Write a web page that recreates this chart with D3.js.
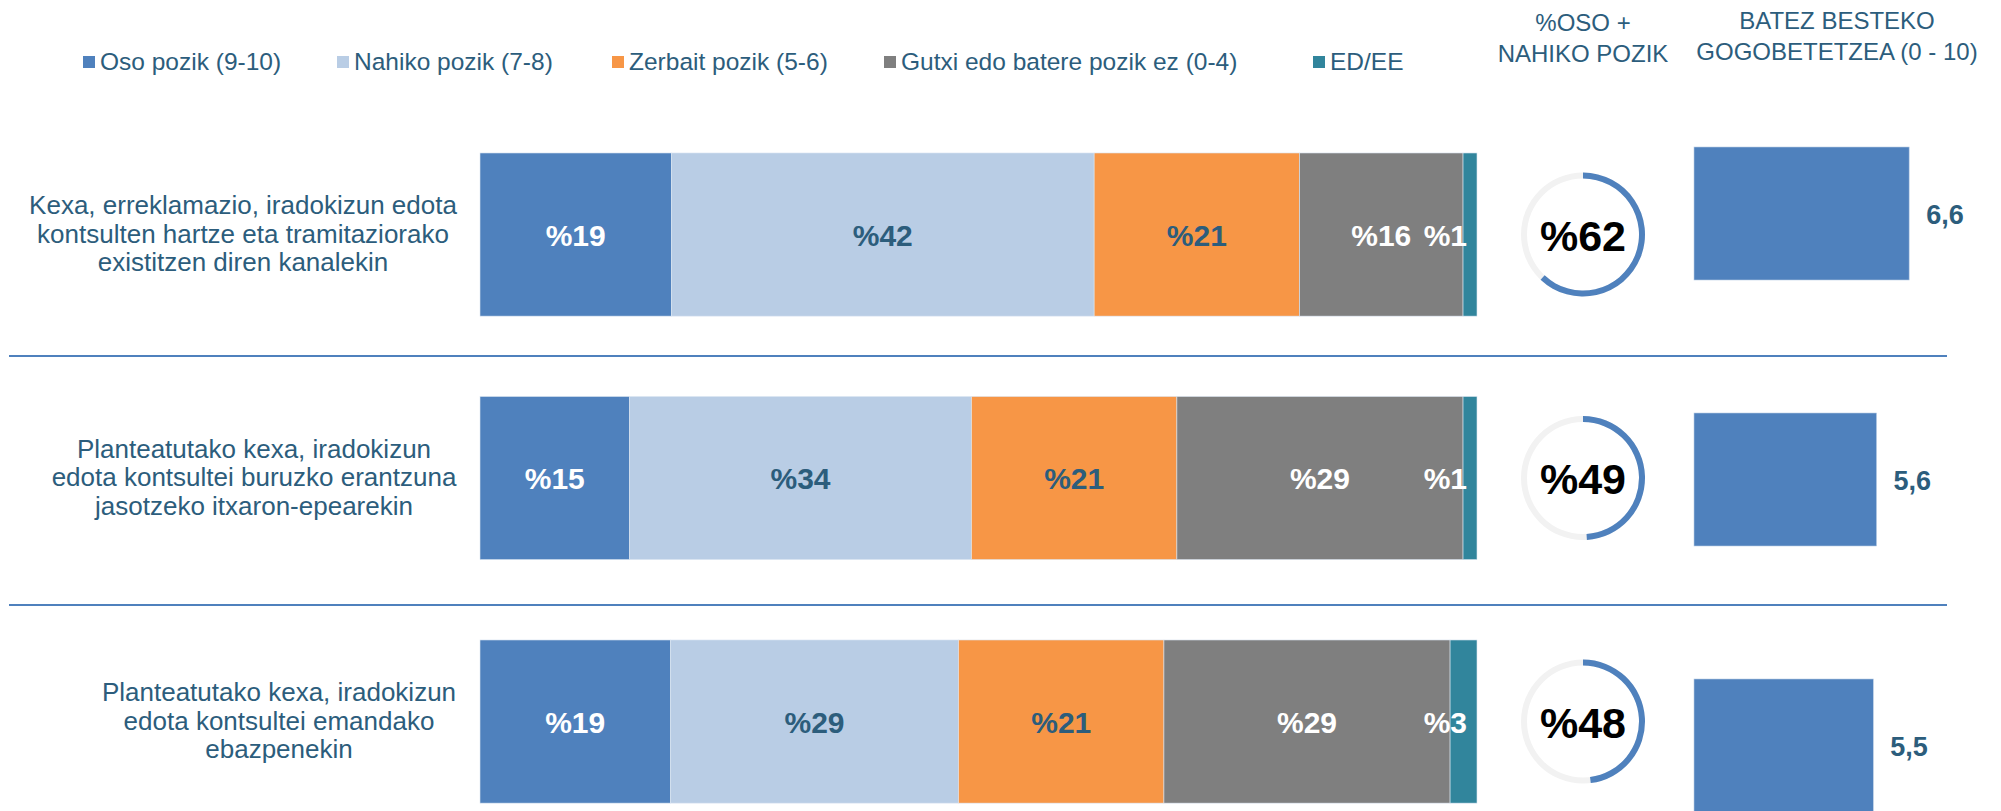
<!DOCTYPE html>
<html>
<head>
<meta charset="utf-8">
<script src="https://cdn.jsdelivr.net/npm/d3@7"></script>
<style>
  body { margin: 0; background: #fff; }
  svg text { font-family: "Liberation Sans", Arial, sans-serif; }
</style>
</head>
<body>
<div id="chart"></div>
<script>
// categories (rows), one label line per entry
var rows = [
  ['Kexa, erreklamazio, iradokizun edota', 'kontsulten hartze eta tramitaziorako', 'existitzen diren kanalekin'],
  ['Planteatutako kexa, iradokizun', 'edota kontsultei buruzko erantzuna', 'jasotzeko itxaron-epearekin'],
  ['Planteatutako kexa, iradokizun', 'edota kontsultei emandako', 'ebazpenekin']
]
var rowKeys = ['r1', 'r2', 'r3']

var series = ['Oso pozik (9-10)', 'Nahiko pozik (7-8)', 'Zerbait pozik (5-6)', 'Gutxi edo batere pozik ez (0-4)', 'ED/EE']

// share of each answer per row (%)
var oso     = [19.2, 15.0, 19.1]
var nahiko  = [42.4, 34.3, 28.9]
var zerbait = [20.6, 20.6, 20.6]
var gutxi   = [16.4, 28.7, 28.7]
var eded    = [1.4, 1.4, 2.7]

var osoNahiko = [62, 49, 48]
var means = [6.6, 5.6, 5.5]

var colors = ['#4f81bd', '#b9cde5', '#f79646', '#7f7f7f', '#31859c']
var labelColors = ['#fff', '#2c5d7c', '#2c5d7c', '#fff', '#fff']
var textColor = '#2c5d7c'

var width = 2001, height = 811

var svg = d3.select('#chart').append('svg')
  .attr('width', width).attr('height', height)

var table = rowKeys.map(function(k, i){
  return {key: k, vals: [oso[i], nahiko[i], zerbait[i], gutxi[i], eded[i]]}
})

var x = d3.scaleLinear().domain([0, 100]).range([480, 1477])
var y = d3.scaleBand().domain(rowKeys).range([112.8, 843.3]).paddingInner(0.33).paddingOuter(0.165)

// mean bars use their own band scale
var xm = d3.scaleLinear().domain([0, 10]).range([1694, 2020])
var ym = d3.scaleBand().domain(rowKeys).range([80.5, 878.5]).paddingInner(0.5).paddingOuter(0.25)

// legend
var legendX = [83, 337, 612, 884, 1313]
var legend = svg.selectAll('g.legend').data(series).enter().append('g')
  .attr('transform', function(d, i){ return 'translate(' + legendX[i] + ',0)' })
legend.append('rect').attr('y', 56).attr('width', 12).attr('height', 12)
  .attr('fill', function(d, i){ return colors[i] })
legend.append('text').attr('x', 17).attr('y', 70).text(function(d){ return d })
  .attr('font-size', 24.5).attr('fill', textColor)

// column headers
var heads = [
  {x: 1583, lines: ['%OSO +', 'NAHIKO POZIK'], y: 31},
  {x: 1837, lines: ['BATEZ BESTEKO', 'GOGOBETETZEA (0 - 10)'], y: 29}
]
heads.forEach(function(h){
  h.lines.forEach(function(l, j){
    svg.append('text').attr('x', h.x).attr('y', h.y + j * 31).text(l)
      .attr('text-anchor', 'middle').attr('font-size', 24).attr('fill', textColor)
  })
})

// separators
var sepY = [356, 605]
svg.selectAll('line.sep').data(sepY).enter().append('line')
  .attr('x1', 9).attr('x2', 1947).attr('y1', function(d){ return d }).attr('y2', function(d){ return d })
  .attr('stroke', '#4f81bd').attr('stroke-width', 2)

// row labels
var labelX = [243, 254, 279]
table.forEach(function(r, i){
  var cy = y(r.key) + y.bandwidth() / 2
  rows[i].forEach(function(l, j){
    svg.append('text').attr('x', labelX[i]).attr('y', cy + 8 + (j - 1) * 28.5).text(l)
      .attr('text-anchor', 'middle').attr('font-size', 26).attr('fill', textColor)
  })
})

// stacked bars
var stack = table.map(function(r){
  var acc = 0
  return r.vals.map(function(v, j){
    var s = {key: r.key, j: j, v: v, x0: acc, x1: acc + v}
    acc += v
    return s
  })
})

var rowSel = svg.selectAll('g.row').data(stack).enter().append('g')

rowSel.selectAll('rect').data(function(d){ return d }).enter().append('rect')
  .attr('x', function(d){ return x(d.x0) })
  .attr('width', function(d){ return x(d.x1) - x(d.x0) })
  .attr('y', function(d){ return y(d.key) })
  .attr('height', y.bandwidth())
  .attr('fill', function(d){ return colors[d.j] })
  .attr('stroke', '#dce6f2').attr('stroke-width', 0.6)

rowSel.selectAll('text').data(function(d){ return d }).enter().append('text')
  .attr('x', function(d){ return d.j == 4 ? x(d.x1) - 10 : (x(d.x0) + x(d.x1)) / 2 })
  .attr('y', function(d){ return y(d.key) + y.bandwidth() / 2 + 11 })
  .attr('text-anchor', function(d){ return d.j == 4 ? 'end' : 'middle' })
  .attr('font-size', 30).attr('font-weight', 'bold')
  .attr('fill', function(d){ return labelColors[d.j] })
  .text(function(d){ return '%' + Math.round(d.v) })

// donuts
var arc = d3.arc().innerRadius(56).outerRadius(62)
table.forEach(function(r, i){
  var cy = y(r.key) + y.bandwidth() / 2
  var g = svg.append('g').attr('transform', 'translate(1583,' + cy + ')')
  g.append('path').attr('d', arc({startAngle: 0, endAngle: 2 * Math.PI})).attr('fill', '#f2f2f2')
  g.append('path').attr('d', arc({startAngle: 0, endAngle: 2 * Math.PI * osoNahiko[i] / 100})).attr('fill', '#4f81bd')
  g.append('text').attr('y', 16).attr('text-anchor', 'middle')
    .attr('font-size', 43).attr('font-weight', 'bold').attr('fill', '#000')
    .text('%' + osoNahiko[i])
})

// mean satisfaction bars
svg.selectAll('rect.mean').data(means).enter().append('rect')
  .attr('x', xm(0))
  .attr('y', function(d, i){ return ym(rowKeys[i]) })
  .attr('width', function(d){ return xm(d) - xm(0) })
  .attr('height', ym.bandwidth())
  .attr('fill', '#4f81bd').attr('stroke', '#b9cde5').attr('stroke-width', 0.6)

svg.selectAll('text.mean').data(means).enter().append('text')
  .attr('x', function(d){ return xm(d) + 17 })
  .attr('y', function(d, i){ return ym(rowKeys[i]) + ym.bandwidth() / 2 + 10 })
  .attr('font-size', 27).attr('font-weight', 'bold').attr('fill', textColor)
  .text(function(d){ return d3.format('.1f')(d).replace('.', ',') })
</script>
</body>
</html>
